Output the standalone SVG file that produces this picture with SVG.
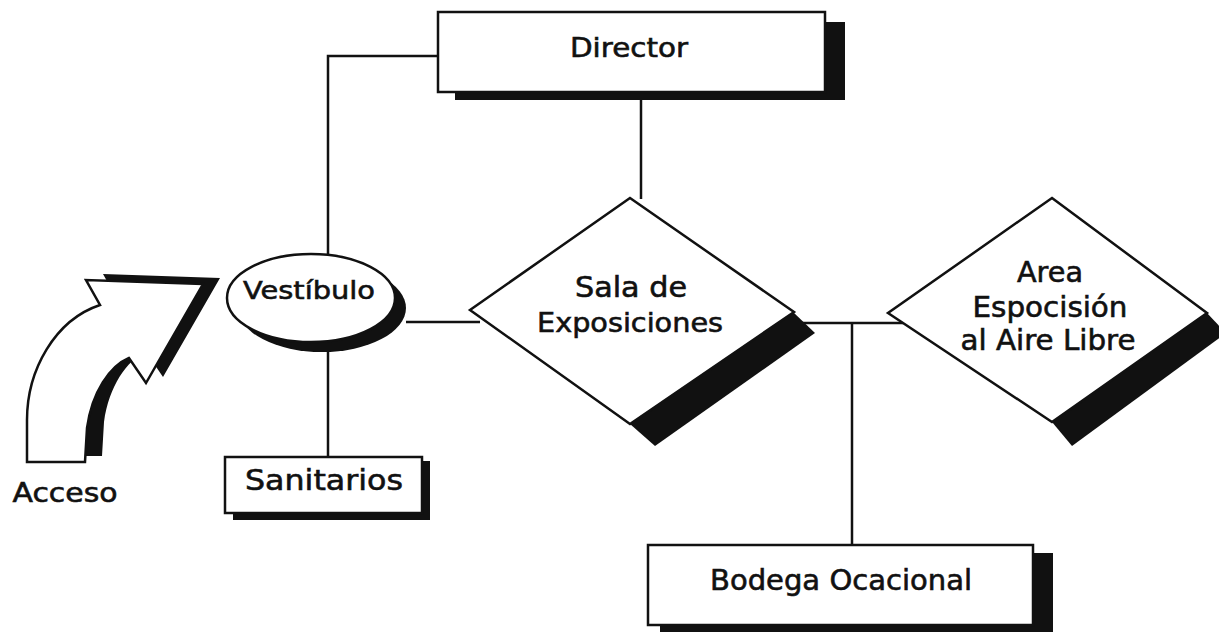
<svg xmlns="http://www.w3.org/2000/svg" width="1219" height="632" viewBox="0 0 1219 632">
<style>
.ln{stroke:#111;stroke-width:2.5;fill:none}
.box{fill:#fff;stroke:#111;stroke-width:2.5}
.sh{fill:#111;stroke:none}
.t{font-family:"DejaVu Sans","Liberation Sans",sans-serif;fill:#111;stroke:#111;stroke-width:0.6;text-anchor:middle}
</style>
<rect width="1219" height="632" fill="#fff"/>
<g id="connectors">
<polyline class="ln" points="438,56 328,56 328,255"/>
<line class="ln" x1="328" y1="352" x2="328" y2="457"/>
<line class="ln" x1="641" y1="100" x2="641" y2="199"/>
<line class="ln" x1="406" y1="322" x2="480" y2="322"/>
<line class="ln" x1="800" y1="323" x2="903" y2="323"/>
<line class="ln" x1="852" y1="323" x2="852" y2="545"/>
</g>
<g id="acceso">
<path class="sh" transform="translate(17,-6)" d="M27,462 L27,420 C27,370 55,320 100,305 L86,280 L203,284 L146,383 L129,358 C110,366 92,392 87,428 L85,462 Z"/>
<path class="box" d="M27,462 L27,420 C27,370 55,320 100,305 L86,280 L203,284 L146,383 L129,358 C110,366 92,392 87,428 L85,462 Z"/>
<text class="t" x="65" y="502" font-size="27" textLength="105" lengthAdjust="spacingAndGlyphs">Acceso</text>
</g>
<g id="director">
<polygon class="sh" points="825,22 845,22 845,100 455,100 455,92 825,92"/>
<rect class="box" x="438" y="12" width="387" height="80"/>
<text class="t" x="629" y="57" font-size="27" textLength="118" lengthAdjust="spacingAndGlyphs">Director</text>
</g>
<g id="vestibulo">
<ellipse class="sh" cx="322" cy="308" rx="84" ry="44"/>
<ellipse class="box" cx="311" cy="298" rx="84" ry="44"/>
<text class="t" x="309" y="299" font-size="25" textLength="132" lengthAdjust="spacingAndGlyphs">Vestíbulo</text>
</g>
<g id="sanitarios">
<polygon class="sh" points="422,461 430,461 430,520 233,520 233,513 422,513"/>
<rect class="box" x="225" y="457" width="197" height="56"/>
<text class="t" x="324" y="490" font-size="29" textLength="158" lengthAdjust="spacingAndGlyphs">Sanitarios</text>
</g>
<g id="sala">
<polygon class="sh" points="793,312 815,333 655,446 630,424"/>
<polygon class="box" points="630,198 794,312 630,424 470,310"/>
<text class="t" x="631" y="297" font-size="28" textLength="112" lengthAdjust="spacingAndGlyphs">Sala de</text>
<text class="t" x="630" y="332" font-size="27" textLength="186" lengthAdjust="spacingAndGlyphs">Exposiciones</text>
</g>
<g id="area">
<polygon class="sh" points="1207,313 1226,333 1072,446 1052,422"/>
<polygon class="box" points="1052,198 1207,313 1052,422 888,313"/>
<text class="t" x="1050" y="282" font-size="28" textLength="66" lengthAdjust="spacingAndGlyphs">Area</text>
<text class="t" x="1050" y="317" font-size="28" textLength="155" lengthAdjust="spacingAndGlyphs">Espocisión</text>
<text class="t" x="1048" y="350" font-size="28" textLength="175" lengthAdjust="spacingAndGlyphs">al Aire Libre</text>
</g>
<g id="bodega">
<polygon class="sh" points="1033,553 1053,553 1053,632 660,632 660,625 1033,625"/>
<rect class="box" x="648" y="545" width="385" height="80"/>
<text class="t" x="841" y="590" font-size="28" textLength="262" lengthAdjust="spacingAndGlyphs">Bodega Ocacional</text>
</g>
</svg>
